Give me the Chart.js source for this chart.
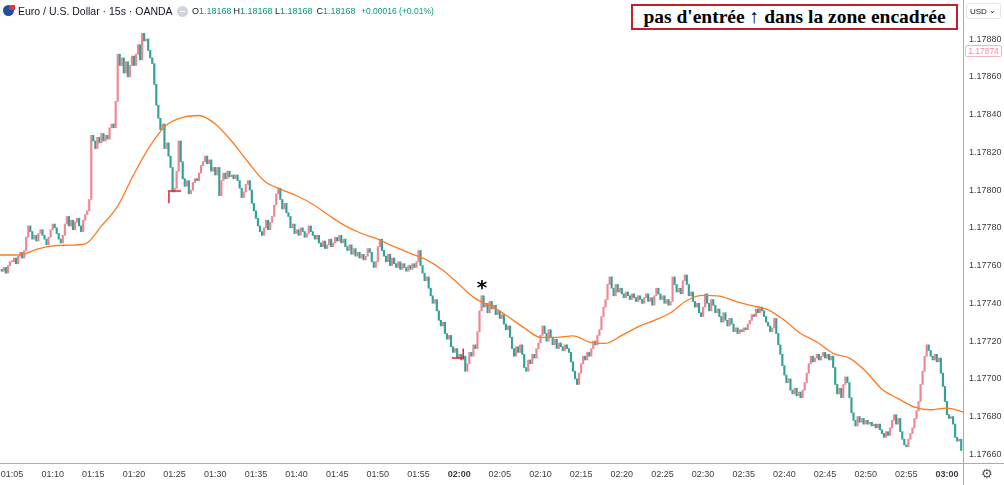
<!DOCTYPE html>
<html>
<head>
<meta charset="utf-8">
<script src="https://cdn.jsdelivr.net/npm/chart.js@4.4.1/dist/chart.umd.min.js"></script>
<style>
  html, body { margin: 0; padding: 0; background: #fff; }
  #wrap { position: relative; width: 1004px; height: 485px; overflow: hidden; }
  canvas { display: block; }
  .ov { position: absolute; pointer-events: none; white-space: nowrap; }
  #title { left: 18px; top: 5px; font: 10.5px "Liberation Sans", Arial, sans-serif; color: #131722; }
  #ohlc { left: 192px; top: 6px; font: 9px "Liberation Sans", Arial, sans-serif; color: #131722; }
  #ohlc span { display: inline-block; width: 41.5px; }
  #ohlc b { font-weight: normal; color: #089981; }
  #ohlc .chg { width: auto; color: #089981; margin-left: 3px; font-size: 8.5px; }
  #flag { left: 3px; top: 5px; width: 11px; height: 11px; border-radius: 50%; background: #1f4fa0; }
  #flag2 { left: 9px; top: 3px; width: 6px; height: 5px; background: #e8323c; border-top: 2px solid #fff; }
  #minus { left: 177px; top: 6px; width: 11px; height: 11px; border-radius: 50%; background: #d1d4dc; }
  #minus i { position: absolute; left: 3px; top: 5px; width: 5px; height: 1px; background: #fff; }
  #note { left: 631px; top: 4px; width: 323px; height: 22px; border: 2px solid #c61f2c;
          font: bold 19.5px "Liberation Serif", "Times New Roman", serif; color: #000;
          text-align: center; line-height: 22px; background: #fff; }
  #usd { left: 966px; top: 3px; width: 35px; height: 16px; border: 1px solid #e0e3eb; border-radius: 3px;
         font: 8px "Liberation Sans", Arial, sans-serif; color: #131722; line-height: 16px; padding-left: 3px; box-sizing: border-box; }
  #usd span { position: absolute; right: 4px; top: -1px; font-size: 8px; }
  #last { left: 965px; top: 45px; width: 37px; height: 12px; border: 1px solid #f7b3c0; border-radius: 2px;
          font: 8.5px "Liberation Sans", Arial, sans-serif; color: #f48fa5; line-height: 11px; text-align: center; background: #fff; box-sizing: border-box; }
  #gear { left: 981px; top: 466px; font: 13px "DejaVu Sans", sans-serif; color: #555; }
</style>
</head>
<body>
<div id="wrap">
  <canvas id="c" width="1004" height="485"></canvas>
  <div class="ov" id="flag"></div>
  <div class="ov" id="flag2"></div>
  <div class="ov" id="title">Euro / U.S. Dollar · 15s · OANDA</div>
  <div class="ov" id="minus"><i></i></div>
  <div class="ov" id="ohlc"><span>O<b>1.18168</b></span><span>H<b>1.18168</b></span><span>L<b>1.18168</b></span><span>C<b>1.18168</b></span><span class="chg">+0.00016 (+0.01%)</span></div>
  <div class="ov" id="note">pas d'entrée ↑ dans la zone encadrée</div>
  <div class="ov" id="usd">USD<span>⌄</span></div>
  <div class="ov" id="last">1.17874</div>
  <div class="ov" id="gear">⚙</div>
</div>
<script>
// prices are stored as points above 1.17000 (1 point = 0.00001)
const BASE = 1.17;
const START_MIN = 3.75;   // first candle 01:03:45, minutes after 01:00
const STEP_MIN = 0.25;    // 15 s candles
const firstOpen = 758;

const closePts = [
  // 01:03:45
  757, 759, 756, 760, 762,
  // 01:05
  762, 764, 761, 765, 767, 764, 768, 775, 781, 778, 774, 776, 773, 777, 779, 776, 774, 771, 775, 779,
  // 01:10
  782, 780, 777, 774, 772, 776, 782, 786, 781, 784, 779, 783, 785, 781, 778, 784, 787, 789, 795, 829,
  // 01:15
  826, 822, 828, 825, 830, 826, 829, 827, 833, 835, 833, 847, 872, 866, 870, 862, 868, 860, 866, 871,
  // 01:20
  866, 872, 877, 869, 883, 879, 880, 874, 870, 867, 856, 845, 838, 832, 835, 822, 825, 818, 812, 799,
  // 01:25
  801, 810, 826, 815, 806, 802, 805, 798, 800, 804, 806, 805, 809, 813, 815, 818, 814, 816, 810, 812,
  // 01:30
  808, 812, 797, 805, 809, 806, 810, 807, 808, 806, 808, 805, 801, 796, 799, 803, 805, 800, 793, 789,
  // 01:35
  785, 781, 778, 776, 780, 784, 779, 783, 786, 792, 798, 801, 795, 790, 793, 788, 786, 780, 782, 777,
  // 01:40
  779, 776, 780, 778, 775, 777, 781, 778, 776, 774, 776, 772, 770, 773, 769, 771, 774, 770, 772, 775,
  // 01:45
  773, 776, 772, 774, 770, 768, 771, 766, 769, 765, 767, 764, 766, 763, 765, 769, 767, 762, 759, 762,
  // 01:50
  770, 774, 768, 765, 762, 766, 760, 764, 761, 759, 762, 758, 761, 759, 757, 760, 758, 761, 759, 762,
  // 01:55
  768, 760, 756, 752, 754, 748, 744, 740, 742, 736, 731, 728, 730, 724, 721, 723, 717, 714, 716, 711,
  // 02:00
  713, 710, 712, 704, 708, 714, 712, 718, 716, 725, 736, 744, 738, 740, 735, 741, 737, 739, 734, 736,
  // 02:05
  732, 734, 729, 726, 728, 722, 716, 712, 717, 714, 718, 713, 706, 704, 710, 708, 713, 711, 716, 719,
  // 02:10
  723, 728, 724, 720, 726, 722, 718, 721, 716, 719, 717, 715, 718, 716, 714, 709, 704, 700, 697, 703,
  // 02:15
  708, 712, 710, 714, 712, 716, 720, 718, 723, 726, 733, 738, 742, 750, 754, 748, 744, 750, 746, 748,
  // 02:20
  745, 743, 746, 744, 742, 745, 743, 741, 744, 742, 740, 743, 745, 741, 743, 739, 744, 748, 745, 742,
  // 02:25
  744, 740, 742, 739, 741, 754, 750, 746, 748, 745, 752, 755, 750, 744, 746, 741, 738, 740, 735, 733,
  // 02:30
  738, 745, 740, 736, 742, 739, 735, 737, 733, 730, 735, 731, 728, 732, 729, 725, 727, 724, 726, 725,
  // 02:35
  727, 726, 729, 731, 734, 733, 737, 735, 738, 736, 733, 730, 728, 725, 727, 732, 724, 718, 713, 707,
  // 02:40
  702, 698, 700, 694, 692, 695, 691, 693, 690, 694, 698, 703, 708, 712, 709, 711, 713, 710, 712, 714,
  // 02:45
  711, 713, 710, 712, 706, 697, 692, 695, 690, 697, 701, 698, 690, 682, 678, 675, 680, 677, 679, 676,
  // 02:50
  678, 676, 677, 675, 676, 674, 676, 673, 671, 669, 672, 670, 674, 678, 681, 676, 679, 672, 668, 665,
  // 02:55
  664, 668, 671, 674, 679, 683, 688, 697, 704, 712, 718, 715, 712, 710, 713, 709, 711, 703, 696, 688,
  // 03:00
  681, 679, 680, 676, 669, 667, 668, 662
];

// moving average (orange line), read every 2 minutes
const maMinutes = [3.5, 6, 8, 10, 12, 14, 16, 18, 20, 22, 24, 26, 28, 30, 32, 34, 36, 38, 40, 42,
  44, 46, 48, 50, 52, 54, 56, 58, 60, 62, 64, 66, 68, 70, 72, 74, 76, 78, 80, 82,
  84, 86, 88, 90, 92, 94, 96, 98, 100, 102, 104, 106, 108, 110, 112, 114, 116, 118, 120, 122];
const maPts = [765.6, 765.7, 768.6, 770.4, 770.8, 771.5, 781.0, 791.5, 808.5, 823.5, 834.5, 838.5, 839.5, 835.0, 826.0, 815.0, 805.0, 800.5, 797.0, 792.5,
  786.5, 781.0, 777.0, 774.0, 770.0, 766.5, 763.0, 757.5, 750.0, 742.5, 738.5, 733.0, 727.0, 722.0, 722.0, 722.8, 719.5, 718.8, 723.0, 727.5,
  731.0, 735.0, 741.5, 744.2, 743.8, 741.0, 738.8, 736.5, 731.0, 724.0, 719.5, 713.5, 711.0, 704.0, 694.5, 689.5, 685.0, 683.6, 684.5, 682.4];

const tickMinutes = [5, 10, 15, 20, 25, 30, 35, 40, 45, 50, 55, 60, 65, 70, 75, 80, 85, 90, 95, 100, 105, 110, 115, 120];
const tickLabels = ['01:05', '01:10', '01:15', '01:20', '01:25', '01:30', '01:35', '01:40', '01:45', '01:50', '01:55', '02:00',
  '02:05', '02:10', '02:15', '02:20', '02:25', '02:30', '02:35', '02:40', '02:45', '02:50', '02:55', '03:00'];
const priceTicks = [1.17660, 1.17680, 1.17700, 1.17720, 1.17740, 1.17760, 1.17780, 1.17800, 1.17820, 1.17840, 1.17860, 1.17880];

// marks drawn on the chart: [minute, price]
const starMark = [62.8, 1.17750];
const redMarks = [
  [[24.3, 1.17793], [24.3, 1.177995], [25.8, 1.177995]],
  [[59.1, 1.17711], [60.5, 1.17711], [60.5, 1.17716]]
];

const UP = '#ef8593';
const DOWN = '#2fa496';

const candles = closePts.map((c, i) => {
  const o = i === 0 ? firstOpen : closePts[i - 1];
  return { x: START_MIN + i * STEP_MIN, y: [BASE + o / 1e5, BASE + c / 1e5], up: c >= o };
});
const maLine = maMinutes.map((m, i) => ({ x: m, y: BASE + maPts[i] / 1e5 }));

// keep the plot area flush with the canvas edges like the trading screen
const noPad = s => { s.paddingLeft = s.paddingRight = s.paddingTop = s.paddingBottom = 0; };

const frame = {
  id: 'frame',
  afterDraw(chart) {
    const ctx = chart.ctx;
    const xs = chart.scales.x, ys = chart.scales.y;
    ctx.save();
    // annotations
    ctx.strokeStyle = '#e8202e';
    ctx.lineWidth = 1.5;
    redMarks.forEach(pts => {
      ctx.beginPath();
      pts.forEach((p, k) => {
        const px = xs.getPixelForValue(p[0]), py = ys.getPixelForValue(p[1]);
        if (k === 0) ctx.moveTo(px, py); else ctx.lineTo(px, py);
      });
      ctx.stroke();
    });
    ctx.fillStyle = '#000';
    ctx.font = 'bold 20px "DejaVu Sans", sans-serif';
    ctx.textAlign = 'center';
    ctx.textBaseline = 'middle';
    ctx.fillText('*', xs.getPixelForValue(starMark[0]), ys.getPixelForValue(starMark[1]) + 4);
    // panel borders
    ctx.strokeStyle = '#a9acb5';
    ctx.lineWidth = 1;
    ctx.beginPath();
    ctx.moveTo(0, chart.chartArea.bottom + 0.5);
    ctx.lineTo(chart.width, chart.chartArea.bottom + 0.5);
    ctx.moveTo(chart.chartArea.right + 0.5, 0);
    ctx.lineTo(chart.chartArea.right + 0.5, chart.height);
    ctx.stroke();
    ctx.restore();
  }
};

new Chart(document.getElementById('c').getContext('2d'), {
  type: 'bar',
  data: {
    datasets: [
      {
        type: 'line',
        data: maLine,
        borderColor: '#ff7b22',
        borderWidth: 1.3,
        pointRadius: 0,
        tension: 0.4,
        cubicInterpolationMode: 'monotone',
        order: 0
      },
      {
        type: 'bar',
        data: candles,
        backgroundColor: ctx => (ctx.raw && ctx.raw.up ? UP : DOWN),
        barThickness: 1.5,
        minBarLength: 1,
        order: 1
      }
    ]
  },
  options: {
    responsive: false,
    animation: false,
    layout: { padding: 0, autoPadding: false },
    plugins: { legend: { display: false }, tooltip: { enabled: false } },
    scales: {
      x: {
        type: 'linear',
        offset: false,
        min: 3.524,
        max: 121.97,
        grid: { display: false, drawTicks: false },
        border: { display: false },
        afterBuildTicks: s => { s.ticks = tickMinutes.map(v => ({ value: v })); },
        afterFit: s => { s.height = 22; noPad(s); },
        ticks: {
          padding: 6,
          maxRotation: 0,
          autoSkip: false,
          color: '#3b3e45',
          font: ctx => ({ family: 'Liberation Sans', size: 9, weight: ctx.tick && ctx.tick.value % 60 === 0 ? 'bold' : 'normal' }),
          callback: v => tickLabels[tickMinutes.indexOf(v)]
        }
      },
      y: {
        type: 'linear',
        position: 'right',
        min: 1.176554,
        max: 1.179007,
        grid: { display: false, drawTicks: false },
        border: { display: false },
        afterBuildTicks: s => { s.ticks = priceTicks.map(v => ({ value: v })); },
        afterFit: s => { s.width = 41; noPad(s); },
        ticks: {
          padding: 6,
          color: '#3b3e45',
          font: { family: 'Liberation Sans', size: 9 },
          callback: v => v.toFixed(5)
        }
      }
    }
  },
  plugins: [frame]
});
</script>
</body>
</html>
